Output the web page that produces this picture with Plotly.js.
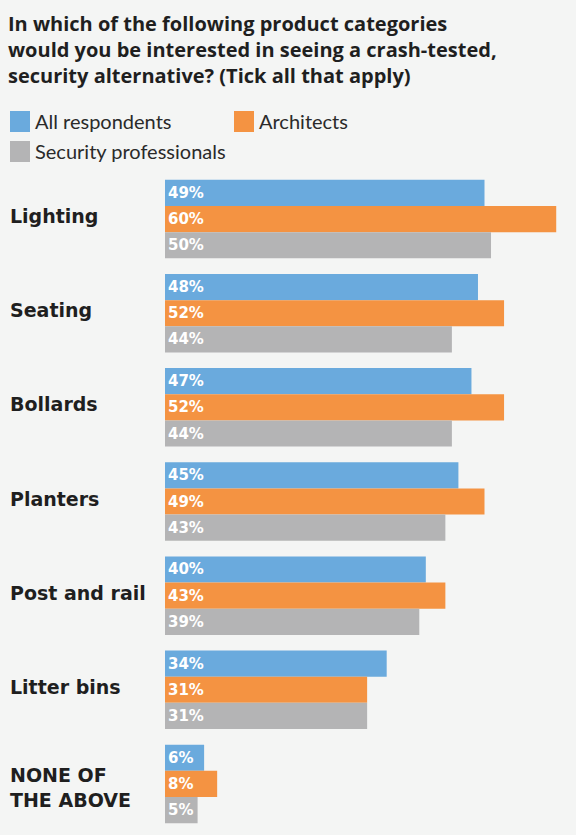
<!DOCTYPE html>
<html>
<head>
<meta charset="utf-8">
<script src="https://cdn.plot.ly/plotly-3.0.1.min.js"></script>
<style>
html,body{margin:0;padding:0;background:#f4f5f4;}
#chart{width:576px;height:835px;}
</style>
</head>
<body>
<div id="chart"></div>
<script>
const categories = ["Lighting", "Seating", "Bollards", "Planters", "Post and rail", "Litter bins", "NONE OF<br>THE ABOVE"];
const seriesNames = ["All respondents", "Architects", "Security professionals"];
const allRespondents = [49, 48, 47, 45, 40, 34, 6];
const architects = [60, 52, 52, 49, 43, 31, 8];
const securityPros = [50, 44, 44, 43, 39, 31, 5];
const colors = ["#6aaadd", "#f49342", "#b4b4b5"];
const titleText = "In which of the following product categories<br>would you be interested in seeing a crash-tested,<br>security alternative? (Tick all that apply)";

const seriesValues = [allRespondents, architects, securityPros];
const LABELFONT = "'DejaVu Sans', sans-serif";
const TITLEFONT = "'Open Sans', sans-serif";
const LEGFONT = "Lato, sans-serif";

const traces = seriesValues.map((vals, i) => ({
  type: "bar",
  orientation: "h",
  name: seriesNames[i],
  x: vals,
  y: categories,
  marker: {color: colors[i]},
  text: vals.map(v => v + "%"),
  textposition: "inside",
  insidetextanchor: "start",
  textangle: 0,
  constraintext: "none",
  textfont: {family: LABELFONT, size: 15, color: "#ffffff", weight: "bold"},
  hoverinfo: "skip",
  showlegend: false
}));

const W = 401, H = 659, L = 165, T = 172;
function px(x){ return (x - L) / W; }
function py(y){ return 1 - (y - T) / H; }

const annotations = categories.map(c => ({
  xref: "paper", yref: "y", x: px(8), y: c,
  xanchor: "left", yanchor: "middle", align: "left",
  yshift: c.indexOf("<br>") >= 0 ? -4 : 3,
  text: "<b>" + c + "</b>", showarrow: false,
  font: {family: LABELFONT, size: 19, color: "#1f1f1f"}
}));

// legend (custom, square swatches)
const legendPos = [[10, 111], [234, 111], [10, 141]];
const shapes = [];
legendPos.forEach((p, i) => {
  shapes.push({type: "rect", xref: "paper", yref: "paper",
    x0: px(p[0]), x1: px(p[0] + 20), y0: py(p[1]), y1: py(p[1] + 21),
    fillcolor: colors[i], line: {width: 0}});
  annotations.push({xref: "paper", yref: "paper", x: px(p[0] + 23), y: py(p[1] + 10.5),
    xanchor: "left", yanchor: "middle", text: seriesNames[i], showarrow: false,
    font: {family: LEGFONT, size: 20, color: "#2a2a2a"}});
});

const layout = {
  width: 576, height: 835,
  paper_bgcolor: "#f4f5f4", plot_bgcolor: "#f4f5f4",
  margin: {l: L, r: 10, t: T, b: 4},
  title: {text: "<b>" + titleText + "</b>", x: 8/576, xanchor: "left", xref: "container",
    y: 1 - 31/835, yanchor: "top", yref: "container",
    font: {family: TITLEFONT, size: 20, color: "#1f1f1f"}},
  barmode: "group",
  bargap: 0.166,
  bargroupgap: 0,
  xaxis: {range: [0, 61.5], visible: false, fixedrange: true},
  yaxis: {autorange: "reversed", visible: false, fixedrange: true},
  annotations: annotations,
  shapes: shapes,
  showlegend: false
};

Plotly.newPlot("chart", traces, layout, {displayModeBar: false, staticPlot: true});
</script>
</body>
</html>
